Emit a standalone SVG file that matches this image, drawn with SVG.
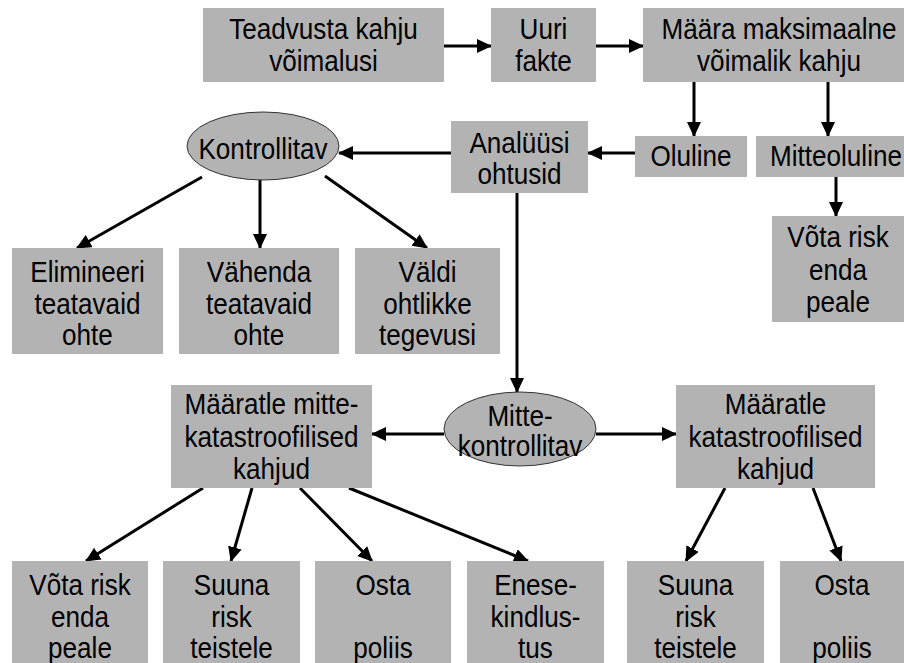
<svg xmlns="http://www.w3.org/2000/svg" width="904" height="663" viewBox="0 0 904 663">
  <style>
    .box { fill: #b3b3b3; }
    .oval { fill: #b3b3b3; stroke: #333333; stroke-width: 1; }
    .lbl { font-family: "Liberation Sans", Arial, sans-serif; font-size: 29px; fill: #000000; text-anchor: middle; }
    .edge { stroke: #000000; stroke-width: 3; fill: none; marker-end: url(#arrow); }
  </style>
  <defs>
    <marker id="arrow" markerUnits="userSpaceOnUse" markerWidth="16" markerHeight="16" refX="14" refY="7" orient="auto">
      <path d="M0,0 L15,7 L0,14 Z" fill="#000000"/>
    </marker>
  </defs>

  <rect width="904" height="663" fill="#ffffff"/>

  <!-- connectors -->
  <g id="connectors">
    <line class="edge" x1="444" y1="46" x2="491" y2="46"/>
    <line class="edge" x1="596" y1="46" x2="643" y2="46"/>
    <line class="edge" x1="694" y1="82" x2="694" y2="136"/>
    <line class="edge" x1="828" y1="82" x2="828" y2="136"/>
    <line class="edge" x1="635" y1="153" x2="588" y2="153"/>
    <line class="edge" x1="451" y1="153" x2="339" y2="153"/>
    <line class="edge" x1="836" y1="177" x2="836" y2="216"/>
    <line class="edge" x1="202" y1="177" x2="77" y2="248"/>
    <line class="edge" x1="260" y1="180" x2="260" y2="248"/>
    <line class="edge" x1="325" y1="176" x2="427" y2="248"/>
    <line class="edge" x1="517" y1="193" x2="517" y2="392"/>
    <line class="edge" x1="444" y1="434" x2="372" y2="434"/>
    <line class="edge" x1="596" y1="434" x2="676" y2="434"/>
    <line class="edge" x1="203" y1="488" x2="86" y2="561"/>
    <line class="edge" x1="252" y1="488" x2="231" y2="561"/>
    <line class="edge" x1="300" y1="488" x2="372" y2="561"/>
    <line class="edge" x1="349" y1="488" x2="528" y2="561"/>
    <line class="edge" x1="725" y1="488" x2="686" y2="561"/>
    <line class="edge" x1="813" y1="488" x2="841" y2="561"/>
  </g>

  <!-- top row -->
  <g id="teadvusta">
    <rect class="box" x="203" y="8" width="241" height="74"/>
    <g transform="translate(323.5 0) scale(0.9 1)">
      <text class="lbl" x="0" y="39">Teadvusta kahju</text>
      <text class="lbl" x="0" y="71">võimalusi</text>
    </g>
  </g>
  <g id="uuri">
    <rect class="box" x="491" y="8" width="105" height="74"/>
    <g transform="translate(543.5 0) scale(0.9 1)">
      <text class="lbl" x="0" y="39">Uuri</text>
      <text class="lbl" x="0" y="71">fakte</text>
    </g>
  </g>
  <g id="maara">
    <rect class="box" x="643" y="8" width="261" height="74"/>
    <g transform="translate(779 0) scale(0.9 1)">
      <text class="lbl" x="0" y="39">Määra maksimaalne</text>
      <text class="lbl" x="0" y="71">võimalik kahju</text>
    </g>
  </g>

  <!-- second row -->
  <g id="analuusi">
    <rect class="box" x="451" y="121" width="137" height="72"/>
    <g transform="translate(519.5 0) scale(0.9 1)">
      <text class="lbl" x="0" y="153">Analüüsi</text>
      <text class="lbl" x="0" y="184">ohtusid</text>
    </g>
  </g>
  <g id="oluline">
    <rect class="box" x="635" y="136" width="112" height="41"/>
    <g transform="translate(691 0) scale(0.9 1)">
      <text class="lbl" x="0" y="166">Oluline</text>
    </g>
  </g>
  <g id="mitteoluline">
    <rect class="box" x="756" y="136" width="148" height="41"/>
    <g transform="translate(836 0) scale(0.9 1)">
      <text class="lbl" x="0" y="166">Mitteoluline</text>
    </g>
  </g>
  <g id="kontrollitav">
    <ellipse class="oval" cx="263" cy="146" rx="76" ry="34"/>
    <g transform="translate(263 0) scale(0.9 1)">
      <text class="lbl" x="0" y="159">Kontrollitav</text>
    </g>
  </g>
  <g id="vota-risk-1">
    <rect class="box" x="772" y="216" width="132" height="106"/>
    <g transform="translate(838 0) scale(0.9 1)">
      <text class="lbl" x="0" y="247">Võta risk</text>
      <text class="lbl" x="0" y="280">enda</text>
      <text class="lbl" x="0" y="312">peale</text>
    </g>
  </g>

  <!-- controllable options -->
  <g id="elimineeri">
    <rect class="box" x="12" y="248" width="151" height="106"/>
    <g transform="translate(87.5 0) scale(0.9 1)">
      <text class="lbl" x="0" y="282">Elimineeri</text>
      <text class="lbl" x="0" y="314">teatavaid</text>
      <text class="lbl" x="0" y="345">ohte</text>
    </g>
  </g>
  <g id="vahenda">
    <rect class="box" x="179" y="248" width="160" height="106"/>
    <g transform="translate(259 0) scale(0.9 1)">
      <text class="lbl" x="0" y="282">Vähenda</text>
      <text class="lbl" x="0" y="314">teatavaid</text>
      <text class="lbl" x="0" y="345">ohte</text>
    </g>
  </g>
  <g id="valdi">
    <rect class="box" x="355" y="248" width="145" height="106"/>
    <g transform="translate(427.5 0) scale(0.9 1)">
      <text class="lbl" x="0" y="282">Väldi</text>
      <text class="lbl" x="0" y="314">ohtlikke</text>
      <text class="lbl" x="0" y="345">tegevusi</text>
    </g>
  </g>

  <!-- uncontrollable branch -->
  <g id="mitte-kontrollitav">
    <ellipse class="oval" cx="520" cy="429" rx="76" ry="37"/>
    <g transform="translate(520 0) scale(0.9 1)">
      <text class="lbl" x="0" y="426">Mitte-</text>
      <text class="lbl" x="0" y="456">kontrollitav</text>
    </g>
  </g>
  <g id="maaratle-mitte">
    <rect class="box" x="171" y="385" width="201" height="103"/>
    <g transform="translate(271.5 0) scale(0.9 1)">
      <text class="lbl" x="0" y="414">Määratle mitte-</text>
      <text class="lbl" x="0" y="447">katastroofilised</text>
      <text class="lbl" x="0" y="479">kahjud</text>
    </g>
  </g>
  <g id="maaratle-kat">
    <rect class="box" x="676" y="385" width="199" height="103"/>
    <g transform="translate(775.5 0) scale(0.9 1)">
      <text class="lbl" x="0" y="414">Määratle</text>
      <text class="lbl" x="0" y="447">katastroofilised</text>
      <text class="lbl" x="0" y="479">kahjud</text>
    </g>
  </g>

  <!-- bottom row -->
  <g id="vota-risk-2">
    <rect class="box" x="12" y="561" width="136" height="102"/>
    <g transform="translate(80 0) scale(0.9 1)">
      <text class="lbl" x="0" y="595">Võta risk</text>
      <text class="lbl" x="0" y="627">enda</text>
      <text class="lbl" x="0" y="658">peale</text>
    </g>
  </g>
  <g id="suuna-1">
    <rect class="box" x="163" y="561" width="137" height="102"/>
    <g transform="translate(231.5 0) scale(0.9 1)">
      <text class="lbl" x="0" y="595">Suuna</text>
      <text class="lbl" x="0" y="627">risk</text>
      <text class="lbl" x="0" y="658">teistele</text>
    </g>
  </g>
  <g id="osta-1">
    <rect class="box" x="315" y="561" width="136" height="102"/>
    <g transform="translate(383 0) scale(0.9 1)">
      <text class="lbl" x="0" y="595">Osta</text>
      <text class="lbl" x="0" y="658">poliis</text>
    </g>
  </g>
  <g id="enesekindlustus">
    <rect class="box" x="467" y="561" width="137" height="102"/>
    <g transform="translate(535.5 0) scale(0.9 1)">
      <text class="lbl" x="0" y="595">Enese-</text>
      <text class="lbl" x="0" y="627">kindlus-</text>
      <text class="lbl" x="0" y="658">tus</text>
    </g>
  </g>
  <g id="suuna-2">
    <rect class="box" x="627" y="561" width="137" height="102"/>
    <g transform="translate(695.5 0) scale(0.9 1)">
      <text class="lbl" x="0" y="595">Suuna</text>
      <text class="lbl" x="0" y="627">risk</text>
      <text class="lbl" x="0" y="658">teistele</text>
    </g>
  </g>
  <g id="osta-2">
    <rect class="box" x="780" y="561" width="124" height="102"/>
    <g transform="translate(842 0) scale(0.9 1)">
      <text class="lbl" x="0" y="595">Osta</text>
      <text class="lbl" x="0" y="658">poliis</text>
    </g>
  </g>
</svg>
